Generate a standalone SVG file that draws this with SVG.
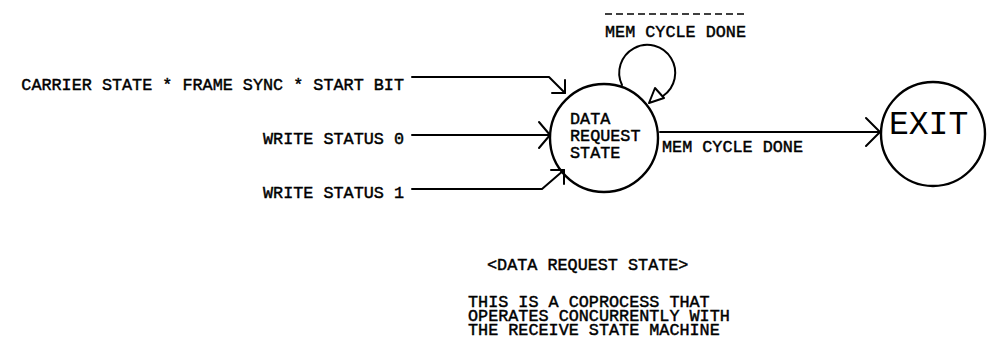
<svg xmlns="http://www.w3.org/2000/svg" width="997" height="349" viewBox="0 0 997 349">
<style>
.t{font-family:"Liberation Mono","DejaVu Sans Mono",monospace;font-size:16.8px;fill:#000;stroke:#000;stroke-width:0.45}
.big{font-family:"Liberation Mono","DejaVu Sans Mono",monospace;font-size:33px;fill:#000}
.ln{fill:none;stroke:#000;stroke-width:2;stroke-linecap:round;stroke-linejoin:round}
.node{fill:none;stroke:#000;stroke-width:2.4}
</style>
<rect width="997" height="349" fill="#fff"/>
<g id="connectors">
  <path class="ln" d="M412 77 H549 L565 93"/>
  <path class="ln" d="M552 93 H565 V80"/>
  <path class="ln" d="M412 135 H550"/>
  <path class="ln" d="M539 122 L550 135 L539 148"/>
  <path class="ln" d="M412 189 H542 L564 170"/>
  <path class="ln" d="M551 170 H564 V184"/>
  <path class="ln" d="M660 132 H880"/>
  <path class="ln" d="M866 118 L880 132 L866 146"/>
  <path class="ln" d="M622 85 A28 28 0 1 1 663 96"/>
  <polygon class="ln" points="655,88 649,103 664,98"/>
  <line x1="605" y1="14" x2="748" y2="14" stroke="#000" stroke-width="1.6" stroke-dasharray="7 4"/>
  <text class="t" x="605" y="37">MEM CYCLE DONE</text>
  <text class="t" x="662" y="152">MEM CYCLE DONE</text>
</g>
<g id="inputs">
  <text class="t" x="404" y="90" text-anchor="end">CARRIER STATE * FRAME SYNC * START BIT</text>
  <text class="t" x="404" y="144" text-anchor="end">WRITE STATUS 0</text>
  <text class="t" x="404" y="198" text-anchor="end">WRITE STATUS 1</text>
</g>
<g id="data-request-state">
  <circle class="node" cx="604" cy="138" r="54"/>
  <text class="t" x="570" y="124">DATA</text>
  <text class="t" x="570" y="141">REQUEST</text>
  <text class="t" x="570" y="158">STATE</text>
</g>
<g id="exit">
  <circle class="node" cx="933" cy="134" r="52"/>
  <text class="big" x="889" y="134">EXIT</text>
</g>
<g id="note">
  <text class="t" x="487" y="270">&lt;DATA REQUEST STATE&gt;</text>
  <text class="t" x="468" y="307">THIS IS A COPROCESS THAT</text>
  <text class="t" x="468" y="321">OPERATES CONCURRENTLY WITH</text>
  <text class="t" x="468" y="335">THE RECEIVE STATE MACHINE</text>
</g>
</svg>
